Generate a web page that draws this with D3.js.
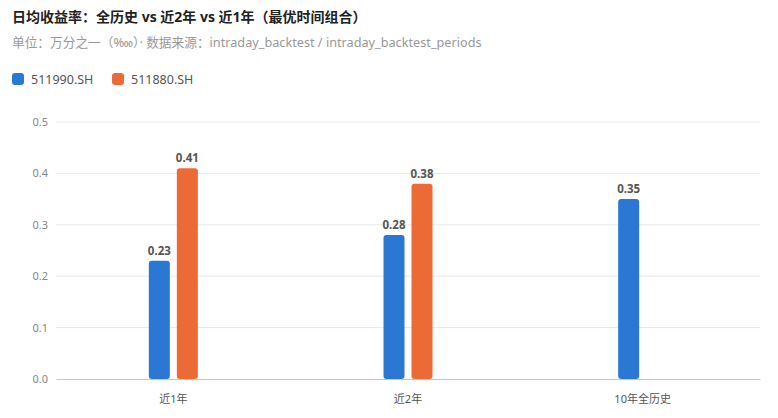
<!DOCTYPE html>
<html>
<head>
<meta charset="utf-8">
<script src="https://cdn.jsdelivr.net/npm/d3@7"></script>
<style>
  body { margin: 0; background: #fff; font-family: "Noto Sans", "Noto Sans CJK SC", sans-serif; }
</style>
</head>
<body>
<div id="chart"></div>
<script>
var categories = ["近1年", "近2年", "10年全历史"];
var seriesNames = ["511990.SH", "511880.SH"];
var seriesColors = ["#2b78d4", "#eb6a36"];
var values511990 = [0.23, 0.28, 0.35];
var values511880 = [0.41, 0.38, null];
var yTicks = [0, 0.1, 0.2, 0.3, 0.4, 0.5];

var W = 778, H = 418;
var margin = {top: 122, right: 18, bottom: 39, left: 56};
var width = W - margin.left - margin.right,
    height = H - margin.top - margin.bottom;

var svg = d3.select("#chart").append("svg")
    .attr("width", W)
    .attr("height", H);

svg.append("text")
    .attr("x", 12).attr("y", 22)
    .attr("font-size", 14).attr("font-weight", "bold")
    .attr("fill", "#222")
    .text("日均收益率：全历史 vs 近2年 vs 近1年（最优时间组合）");

svg.append("text")
    .attr("x", 12).attr("y", 47)
    .attr("font-size", 12.7).attr("fill", "#999")
    .text("单位：万分之一（‱）· 数据来源：intraday_backtest / intraday_backtest_periods");

// legend
var legend = svg.append("g").attr("transform", "translate(12,73)");
var lx = 0;
seriesNames.forEach(function(name, i) {
    var g = legend.append("g").attr("transform", "translate(" + lx + ",0)");
    g.append("rect")
        .attr("width", 12).attr("height", 12)
        .attr("rx", 3)
        .attr("fill", seriesColors[i]);
    g.append("text")
        .attr("x", 19).attr("y", 11)
        .attr("font-size", 12.5).attr("fill", "#555")
        .text(name);
    lx += 100;
});

var plot = svg.append("g")
    .attr("transform", "translate(" + margin.left + "," + margin.top + ")");

var x = d3.scaleBand()
    .domain(categories)
    .range([0, width]);

var y = d3.scaleLinear()
    .domain([0, 0.5])
    .range([height, 0]);

// grid
plot.selectAll(".grid")
    .data(yTicks.slice(1))
    .enter().append("line")
    .attr("x1", 0).attr("x2", width)
    .attr("y1", function(d) { return y(d); })
    .attr("y2", function(d) { return y(d); })
    .attr("stroke", "#e8e8e8");

var yAxis = plot.append("g")
    .call(d3.axisLeft(y).tickValues(yTicks).tickFormat(d3.format(".1f")).tickSize(0).tickPadding(8));
yAxis.select(".domain").remove();
yAxis.selectAll("text").attr("font-size", 11).attr("fill", "#888")
    .attr("font-family", "\"Noto Sans\", sans-serif");

var xAxis = plot.append("g")
    .attr("transform", "translate(0," + height + ")")
    .call(d3.axisBottom(x).tickSize(0).tickPadding(16));
xAxis.select(".domain").attr("stroke", "#c8c8c8");
xAxis.selectAll("text").attr("font-size", 11).attr("fill", "#555")
    .attr("font-family", "\"Noto Sans\", \"Noto Sans CJK SC\", sans-serif");

var barW = 21, gap = 7;

var allSeries = [values511990, values511880];
allSeries.forEach(function(vals, si) {
    var data = categories.map(function(c, i) { return {c: c, v: vals[i]}; })
        .filter(function(d) { return d.v != null; });
    var cx = function(d) { return x(d.c) + x.bandwidth() / 2 + (si === 0 ? -gap / 2 - barW : gap / 2); };
    plot.selectAll(".bar" + si)
        .data(data)
        .enter().append("path")
        .attr("fill", seriesColors[si])
        .attr("d", function(d) {
            var x0 = cx(d), y0 = y(d.v), r = 3;
            return "M" + x0 + "," + (y0 + r) +
                "Q" + x0 + "," + y0 + " " + (x0 + r) + "," + y0 +
                "H" + (x0 + barW - r) +
                "Q" + (x0 + barW) + "," + y0 + " " + (x0 + barW) + "," + (y0 + r) +
                "V" + (height - r) +
                "Q" + (x0 + barW) + "," + height + " " + (x0 + barW - r) + "," + height +
                "H" + (x0 + r) +
                "Q" + x0 + "," + height + " " + x0 + "," + (height - r) + "Z";
        });
    plot.selectAll(".label" + si)
        .data(data)
        .enter().append("text")
        .attr("x", function(d) { return cx(d) + barW / 2; })
        .attr("y", function(d) { return y(d.v) - 6; })
        .attr("text-anchor", "middle")
        .attr("font-size", 11.5).attr("font-weight", "bold")
        .attr("fill", "#555")
        .text(function(d) { return d3.format(".2f")(d.v); });
});
</script>
</body>
</html>
